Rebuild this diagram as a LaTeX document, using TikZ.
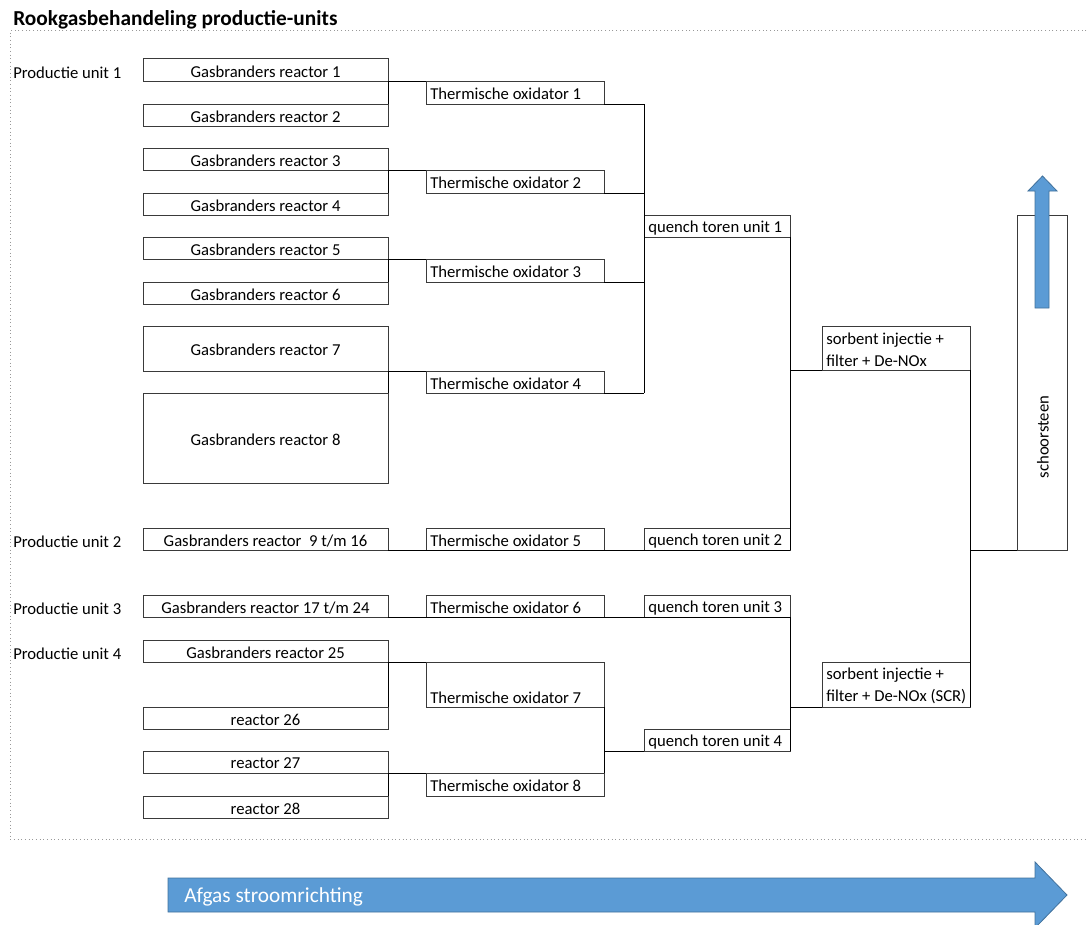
\documentclass[tikz,border=0pt]{standalone}
\usepackage{fontspec}
\setmainfont{Carlito}
\usetikzlibrary{fit,calc}
\definecolor{arrowblue}{HTML}{5B9BD5}
\definecolor{arrowedge}{HTML}{41719C}
\definecolor{boxline}{HTML}{3A3A3A}
\begin{document}
\begin{tikzpicture}[x=0.75pt,y=-0.75pt,
  box/.style={draw=boxline, line width=0.75pt, inner sep=0pt, outer sep=0pt},
  plain/.style={font=\fontsize{12.5}{14}\selectfont, inner sep=0pt, text=black},
  txt/.style={plain, yshift=-1.2pt},
  two/.style={font=\fontsize{12.5}{16.5}\selectfont, inner sep=0pt, align=left, text=black, yshift=-1.2pt},
  link/.style={draw=black, line width=0.75pt},
  frame/.style={draw=gray!80, line width=0.75pt, dotted},
  bigarrow/.style={fill=arrowblue, draw=arrowedge, line width=0.6pt},
]
\useasboundingbox (0,0) rectangle (1087,924);

% title and dotted frame
\node[anchor=west, inner sep=0pt, font=\fontsize{16}{18}\selectfont\bfseries] (title) at (13,19.5) {Rookgasbehandeling productie-units};
\draw[frame] (1090,31) -- (10,31) -- (10,839) -- (1090,839);

% unit labels
\node[txt, anchor=west] (u1) at (13,71) {Productie unit 1};
\node[txt, anchor=west] (u2) at (13,540) {Productie unit 2};
\node[txt, anchor=west] (u3) at (13,607) {Productie unit 3};
\node[txt, anchor=west] (u4) at (13,652) {Productie unit 4};

% burner boxes
\node[box, fit={(143,59)(388,81)}] (r1) {};
\node[box, fit={(143,104)(388,126)}] (r2) {};
\node[box, fit={(143,148)(388,170)}] (r3) {};
\node[box, fit={(143,193)(388,215)}] (r4) {};
\node[box, fit={(143,237)(388,259)}] (r5) {};
\node[box, fit={(143,282)(388,304)}] (r6) {};
\node[box, fit={(143,326)(388,371)}] (r7) {};
\node[box, fit={(143,393)(388,483)}] (r8) {};
\node[box, fit={(143,528)(388,550)}] (r916) {};
\node[box, fit={(143,595)(388,617)}] (r1724) {};
\node[box, fit={(143,640)(388,662)}] (r25) {};
\node[box, fit={(143,707)(388,729)}] (r26) {};
\node[box, fit={(143,751)(388,773)}] (r27) {};
\node[box, fit={(143,796)(388,818)}] (r28) {};

\node[txt] (r1t) at (r1.center) {Gasbranders reactor 1};
\node[txt] (r2t) at (r2.center) {Gasbranders reactor 2};
\node[txt] (r3t) at (r3.center) {Gasbranders reactor 3};
\node[txt] (r4t) at (r4.center) {Gasbranders reactor 4};
\node[txt] (r5t) at (r5.center) {Gasbranders reactor 5};
\node[txt] (r6t) at (r6.center) {Gasbranders reactor 6};
\node[txt] (r7t) at (r7.center) {Gasbranders reactor 7};
\node[txt] (r8t) at (r8.center) {Gasbranders reactor 8};
\node[txt] (r916t) at (r916.center) {Gasbranders reactor~ 9 t/m 16};
\node[txt] (r1724t) at (r1724.center) {Gasbranders reactor 17 t/m 24};
\node[txt] (r25t) at (r25.center) {Gasbranders reactor 25};
\node[txt] (r26t) at (r26.center) {reactor 26};
\node[txt] (r27t) at (r27.center) {reactor 27};
\node[txt] (r28t) at (r28.center) {reactor 28};

% thermal oxidisers
\node[box, fit={(426,81)(604,104)}] (to1) {};
\node[box, fit={(426,170)(604,193)}] (to2) {};
\node[box, fit={(426,259)(604,282)}] (to3) {};
\node[box, fit={(426,371)(604,393)}] (to4) {};
\node[box, fit={(426,528)(604,550)}] (to5) {};
\node[box, fit={(426,595)(604,617)}] (to6) {};
\node[box, fit={(426,662)(604,707)}] (to7) {};
\node[box, fit={(426,773)(604,796)}] (to8) {};

\node[txt, anchor=west] (to1t) at ($(to1.west)+(4,0)$) {Thermische oxidator 1};
\node[txt, anchor=west] (to2t) at ($(to2.west)+(4,0)$) {Thermische oxidator 2};
\node[txt, anchor=west] (to3t) at ($(to3.west)+(4,0)$) {Thermische oxidator 3};
\node[txt, anchor=west] (to4t) at ($(to4.west)+(4,0)$) {Thermische oxidator 4};
\node[txt, anchor=west] (to5t) at ($(to5.west)+(4,0)$) {Thermische oxidator 5};
\node[txt, anchor=west] (to6t) at ($(to6.west)+(4,0)$) {Thermische oxidator 6};
\node[txt, anchor=west] (to7t) at ($(to7.south west)+(4,-11)$) {Thermische oxidator 7};
\node[txt, anchor=west] (to8t) at ($(to8.west)+(4,0)$) {Thermische oxidator 8};

% quench towers
\node[box, fit={(644,215)(790,237)}] (q1) {};
\node[box, fit={(644,528)(790,550)}] (q2) {};
\node[box, fit={(644,595)(790,617)}] (q3) {};
\node[box, fit={(644,729)(790,751)}] (q4) {};
\node[txt, anchor=west] (q1t) at ($(q1.west)+(4,0)$) {quench toren unit 1};
\node[txt, anchor=west] (q2t) at ($(q2.west)+(4,0)$) {quench toren unit 2};
\node[txt, anchor=west] (q3t) at ($(q3.west)+(4,0)$) {quench toren unit 3};
\node[txt, anchor=west] (q4t) at ($(q4.west)+(4,0)$) {quench toren unit 4};

% sorbent / filter
\node[box, fit={(822,326)(970,370)}] (s1) {};
\node[box, fit={(822,662)(970,707)}] (s2) {};
\node[two, anchor=west] (s1t) at ($(s1.west)+(4,0)$) {sorbent injectie +\\filter + De-NOx};
\node[two, anchor=west] (s2t) at ($(s2.west)+(4,0)$) {sorbent injectie +\\filter + De-NOx (SCR)};

% chimney
\node[box, fit={(1017,215)(1067,550)}] (sch) {};
\node[plain, rotate=90] (scht) at ($(sch.south)+(1,-113)$) {schoorsteen};

% connectors: burners to oxidisers
\draw[link] (r1.south east) -- (to1.north west);
\draw[link] (r1.south east) -- (r2.north east);
\draw[link] (r3.south east) -- (to2.north west);
\draw[link] (r3.south east) -- (r4.north east);
\draw[link] (r5.south east) -- (to3.north west);
\draw[link] (r5.south east) -- (r6.north east);
\draw[link] (r7.south east) -- (to4.north west);
\draw[link] (r7.south east) -- (r8.north east);
\draw[link] (r25.south east) -- (to7.north west);
\draw[link] (r25.south east) -- (r26.north east);
\draw[link] (r27.south east) -- (to8.north west);
\draw[link] (r27.south east) -- (r28.north east);

% oxidisers to quench
\draw[link] (to1.south east) -- (to1.south east -| q1.west);
\draw[link] (to2.south east) -- (to2.south east -| q1.west);
\draw[link] (to3.south east) -- (to3.south east -| q1.west);
\draw[link] (to4.south east) -- (to4.south east -| q1.west);
\draw[link] (to1.south east -| q1.west) -- (to4.south east -| q1.west);
\draw[link] (r916.south east) -- (q2.south east);
\draw[link] (r1724.south east) -- (q3.south east);
\draw[link] (to7.south east) -- (to8.north east);
\draw[link] (q4.south west -| to7.east) -- (q4.south west);

% quench to sorbent
\draw[link] (q1.south east) -- (q2.south east);
\draw[link] (s1.south west -| q1.east) -- (s1.south west);
\draw[link] (q3.south east) -- (q4.south east);
\draw[link] (s2.south west -| q3.east) -- (s2.south west);

% sorbent to chimney
\draw[link] (s1.south east) -- (s2.south east);
\draw[link] (s1.south east |- sch.south west) -- (sch.south west);

% up arrow in chimney
\draw[bigarrow] (1035,308) -- (1035,191) -- (1028,191) -- (1042.5,176) -- (1057,191) -- (1049,191) -- (1049,308) -- cycle;

% flow direction arrow
\draw[bigarrow] (168,878) -- (1035,878) -- (1035,862) -- (1067,895) -- (1035,928) -- (1035,912) -- (168,912) -- cycle;
\node[anchor=west, inner sep=0pt, text=white, font=\fontsize{16}{18}\selectfont] (flow) at (184,897) {Afgas stroomrichting};
\end{tikzpicture}
\end{document}
